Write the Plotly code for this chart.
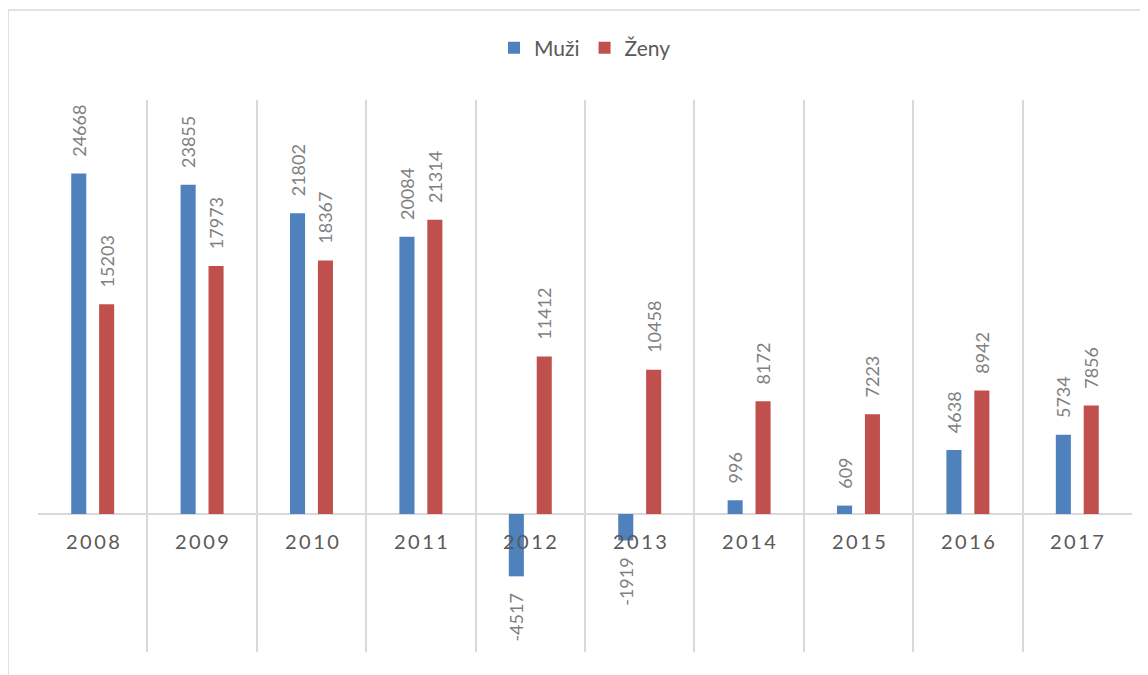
import plotly.graph_objects as go

years = ["2008", "2009", "2010", "2011", "2012", "2013", "2014", "2015", "2016", "2017"]
muzi = [24668, 23855, 21802, 20084, -4517, -1919, 996, 609, 4638, 5734]
zeny = [15203, 17973, 18367, 21314, 11412, 10458, 8172, 7223, 8942, 7856]

BLUE = "#4F81BD"
RED = "#C0504D"
GRID = "#D9D9D9"
FONT = "Lato, 'Open Sans', sans-serif"
PAD = "\u00a0\u00a0\u00a0"

# page body has an 8px margin; figure is sized to fit the window
W, H = 1140, 667
L, R, T, B = 30, 16, 92, 23
PW, PH = W - L - R, H - T - B


def labels(vals):
    return [(PAD + str(v)) if v >= 0 else (str(v) + PAD) for v in vals]


fig = go.Figure()
for name, vals, col in [("Muži", muzi, BLUE), ("Ženy", zeny, RED)]:
    fig.add_trace(go.Bar(
        x=years, y=vals, name=name,
        marker=dict(color=col, line=dict(width=0)),
        text=labels(vals), textposition="outside", textangle=-90,
        constraintext="none", cliponaxis=False,
        textfont=dict(family=FONT, size=18, color="#7F7F7F"),
        hoverinfo="skip",
    ))

annotations = [
    dict(x=i, y=0, xref="x", yref="y", text="\u2009".join(list(y)),
         showarrow=False, yanchor="top", yshift=-13,
         font=dict(family=FONT, size=20, color="#595959"))
    for i, y in enumerate(years)
]

fig.update_layout(
    width=W, height=H,
    margin=dict(l=L, r=R, t=T, b=B),
    paper_bgcolor="white", plot_bgcolor="white",
    barmode="group", bargap=0.49, bargroupgap=0.46,
    showlegend=True,
    legend=dict(orientation="h", x=0.5, xanchor="center", y=1 + (T - 40) / PH, yanchor="middle",
                font=dict(family=FONT, size=21, color="#595959"),
                itemclick=False),
    xaxis=dict(type="category", range=[-0.5, len(years) - 0.5], autorange=False,
               tickson="boundaries", showgrid=True, gridcolor=GRID,
               gridwidth=1.5, showticklabels=False, ticks="", showline=False,
               zeroline=False),
    yaxis=dict(range=[-10000, 30000], autorange=False, showgrid=False,
               showticklabels=False, ticks="",
               zeroline=True, zerolinecolor=GRID, zerolinewidth=2, showline=False),
    annotations=annotations,
    shapes=[dict(type="rect", xref="paper", yref="paper",
                 x0=(0 - L) / PW, x1=(W + 20 - L) / PW,
                 y0=-(40) / PH, y1=1 + (T - 2) / PH,
                 line=dict(color=GRID, width=1.5), fillcolor="rgba(0,0,0,0)")],
)

fig.write_html("out.html")
